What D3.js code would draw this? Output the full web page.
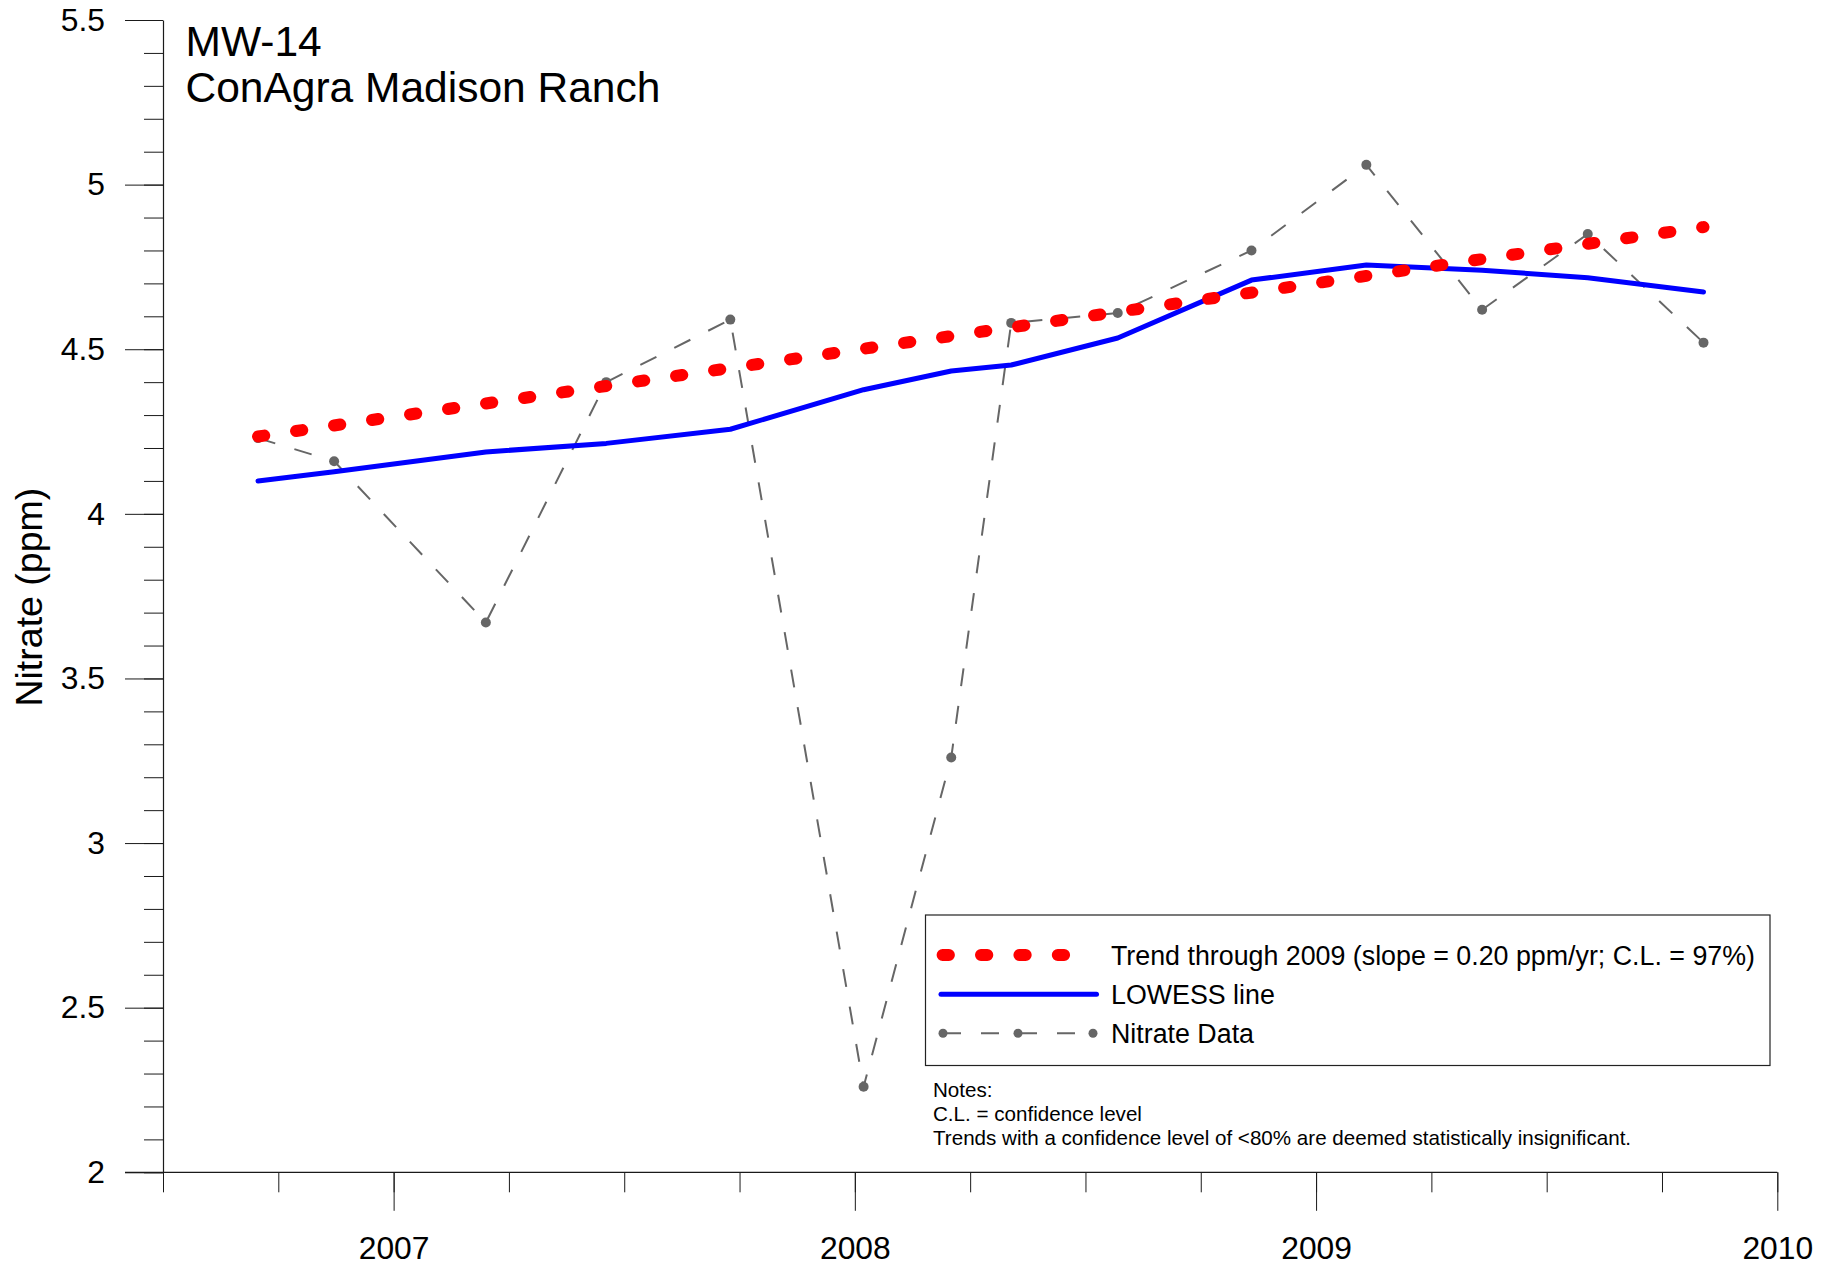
<!DOCTYPE html>
<html>
<head>
<meta charset="utf-8">
<script src="https://cdn.jsdelivr.net/npm/d3@7/dist/d3.min.js"></script>
<style>
  html, body { margin: 0; padding: 0; background: #fff; }
  svg { display: block; font-family: Arial, "Liberation Sans", sans-serif; }
</style>
</head>
<body>
<svg id="chart" width="1837" height="1265"></svg>
<script>
// ---- Data (decimal years) ----
const sampleDates = [2006.706, 2006.871, 2007.200, 2007.461, 2007.730, 2008.019, 2008.209,
                     2008.339, 2008.570, 2008.860, 2009.109, 2009.360, 2009.589, 2009.840];
const nitrateValues = [4.23, 4.16, 3.67, 4.40, 4.59, 2.26, 3.26, 4.58, 4.61, 4.80, 5.06, 4.62, 4.85, 4.52];
const lowessValues = [4.100, 4.128, 4.188, 4.214, 4.257, 4.377, 4.434, 4.452, 4.534, 4.710, 4.756, 4.740, 4.717, 4.674];
const trendDates = [2006.706, 2009.840];
const trendValues = [4.235, 4.871];

const yMajorTicks = [2, 2.5, 3, 3.5, 4, 4.5, 5, 5.5];
const yMinorTicks = d3.range(20, 56).map(v => v / 10);
const xMajorTicks = [2007, 2008, 2009, 2010];
const xMinorTicks = d3.range(0, 15).map(i => 2006.5 + i * 0.25);
const xTickLabels = ["2007", "2008", "2009", "2010"];

const titleLines = ["MW-14", "ConAgra Madison Ranch"];
const yAxisTitle = "Nitrate (ppm)";
const legendLabels = ["Trend through 2009 (slope = 0.20 ppm/yr; C.L. = 97%)", "LOWESS line", "Nitrate Data"];
const noteLines = ["Notes:", "C.L. = confidence level",
                   "Trends with a confidence level of <80% are deemed statistically insignificant."];

// ---- Layout ----
const svg = d3.select("#chart");
const x = d3.scaleLinear().domain([2006.5, 2010]).range([163, 1777.3]);
const y = d3.scaleLinear().domain([2, 5.5]).range([1172.3, 20]);
const axisColor = "#1a1a1a";
const font = "Arial, 'Liberation Sans', sans-serif";

// Y axis minor
const yMinor = svg.append("g").attr("transform", `translate(${x(2006.5)},0)`)
  .call(d3.axisLeft(y).tickValues(yMinorTicks).tickSize(19).tickFormat(""));
yMinor.select(".domain").remove();
// Y axis major
const yMajor = svg.append("g").attr("transform", `translate(${x(2006.5)},0)`)
  .call(d3.axisLeft(y).tickValues(yMajorTicks).tickSize(38).tickSizeOuter(0).tickPadding(20)
        .tickFormat(d3.format("")));
yMajor.selectAll("text").attr("font-size", 31.8).attr("font-family", font).attr("fill", "#000");

// X axis minor
const xMinor = svg.append("g").attr("transform", `translate(0,${y(2)})`)
  .call(d3.axisBottom(x).tickValues(xMinorTicks).tickSize(20).tickFormat(""));
xMinor.select(".domain").remove();
// X axis major
const xMajor = svg.append("g").attr("transform", `translate(0,${y(2)})`)
  .call(d3.axisBottom(x).tickValues(xMajorTicks).tickSize(38.5).tickSizeOuter(0).tickPadding(26)
        .tickFormat((d, i) => xTickLabels[i]));
xMajor.selectAll("text").attr("font-size", 31.8).attr("font-family", font).attr("fill", "#000");
xMajor.select(".domain").attr("d", `M${x(2006.5) - 38},0H${x(2010)}`);

svg.selectAll(".tick line").attr("stroke", axisColor).attr("stroke-width", 1);
svg.selectAll(".domain").attr("stroke", axisColor).attr("stroke-width", 1.2);

// ---- Series ----
const dataPts = sampleDates.map((d, i) => ({ x: d, v: nitrateValues[i], l: lowessValues[i] }));
const trendPts = trendDates.map((d, i) => ({ x: d, v: trendValues[i] }));

const lineV = d3.line().x(d => x(d.x)).y(d => y(d.v));
const lineL = d3.line().x(d => x(d.x)).y(d => y(d.l));

// Nitrate data (gray dashed + markers)
svg.append("path").datum(dataPts).attr("d", lineV)
  .attr("fill", "none").attr("stroke", "#666").attr("stroke-width", 2)
  .attr("stroke-dasharray", "18,20");
svg.append("g").selectAll("circle").data(dataPts).join("circle")
  .attr("cx", d => x(d.x)).attr("cy", d => y(d.v)).attr("r", 5).attr("fill", "#666");

// LOWESS
svg.append("path").datum(dataPts).attr("d", lineL)
  .attr("fill", "none").attr("stroke", "#0000ff").attr("stroke-width", 5)
  .attr("stroke-linecap", "round").attr("stroke-linejoin", "round");

// Trend
svg.append("path").datum(trendPts).attr("d", lineV)
  .attr("fill", "none").attr("stroke", "#ff0000").attr("stroke-width", 12)
  .attr("stroke-linecap", "round").attr("stroke-dasharray", "6.3,32.1");

// ---- Titles ----
svg.append("g").selectAll("text").data(titleLines).join("text")
  .attr("x", 185.5).attr("y", (d, i) => 56 + i * 45.7)
  .attr("font-size", 42.5).attr("font-family", font).attr("fill", "#000").text(d => d);

svg.append("text")
  .attr("transform", `translate(41.5,${(y(2) + y(5.5)) / 2 + 1}) rotate(-90)`)
  .attr("text-anchor", "middle").attr("font-size", 37.5).attr("font-family", font).attr("fill", "#000")
  .text(yAxisTitle);

// ---- Legend ----
const lg = svg.append("g");
lg.append("rect").attr("x", 925.5).attr("y", 915).attr("width", 844.5).attr("height", 150.5)
  .attr("fill", "#fff").attr("stroke", "#222").attr("stroke-width", 1.2);
const rowY = [955, 994.3, 1033.3];
lg.append("line").attr("x1", 942.6).attr("x2", 1068).attr("y1", rowY[0]).attr("y2", rowY[0])
  .attr("stroke", "#ff0000").attr("stroke-width", 12).attr("stroke-linecap", "round")
  .attr("stroke-dasharray", "6.3,32.1");
lg.append("line").attr("x1", 941).attr("x2", 1096.5).attr("y1", rowY[1]).attr("y2", rowY[1])
  .attr("stroke", "#0000ff").attr("stroke-width", 5).attr("stroke-linecap", "round");
lg.append("line").attr("x1", 943).attr("x2", 1093).attr("y1", rowY[2]).attr("y2", rowY[2])
  .attr("stroke", "#666").attr("stroke-width", 2).attr("stroke-dasharray", "18,20");
lg.selectAll("circle.lgpt").data([943, 1018, 1093]).join("circle").attr("class", "lgpt")
  .attr("cx", d => d).attr("cy", rowY[2]).attr("r", 4.5).attr("fill", "#666");
lg.selectAll("text").data(legendLabels).join("text")
  .attr("x", 1111).attr("y", (d, i) => rowY[i] + 9.5)
  .attr("font-size", 26.8).attr("font-family", font).attr("fill", "#000").text(d => d);

// ---- Notes ----
svg.append("g").selectAll("text").data(noteLines).join("text")
  .attr("x", 933).attr("y", (d, i) => 1096.7 + i * 24.3)
  .attr("font-size", 20.6).attr("font-family", font).attr("fill", "#000")
  .text(d => d);
</script>
</body>
</html>
